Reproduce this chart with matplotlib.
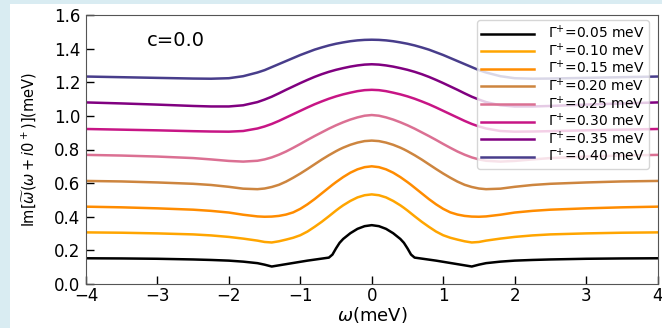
import numpy as np
import matplotlib
matplotlib.use("Agg")
import matplotlib.pyplot as plt
from matplotlib.patches import Rectangle

# omega grid (left half, curves are symmetric about omega = 0)
omega_half = [-4.0, -3.5, -3.0, -2.5, -2.25, -2.0, -1.8, -1.6, -1.5, -1.4, -1.3,
              -1.2, -1.1, -1.0, -0.9, -0.8, -0.7, -0.6, -0.55, -0.5, -0.45,
              -0.4, -0.3, -0.2, -0.1, 0.0]

gamma_labels = ["0.05", "0.10", "0.15", "0.20", "0.25", "0.30", "0.35", "0.40"]

im_g05 = [0.153, 0.152, 0.150, 0.146, 0.143, 0.139, 0.133, 0.124, 0.115, 0.104, 0.111,
          0.118, 0.125, 0.132, 0.139, 0.145, 0.151, 0.157, 0.175, 0.212, 0.245,
          0.268, 0.302, 0.328, 0.344, 0.350]
im_g10 = [0.307, 0.305, 0.301, 0.295, 0.289, 0.280, 0.270, 0.258, 0.250, 0.247, 0.254,
          0.264, 0.275, 0.290, 0.312, 0.340, 0.370, 0.403, 0.420, 0.437, 0.453,
          0.468, 0.494, 0.515, 0.528, 0.533]
im_g15 = [0.460, 0.456, 0.450, 0.442, 0.435, 0.425, 0.412, 0.402, 0.400, 0.401, 0.405,
          0.413, 0.426, 0.447, 0.474, 0.505, 0.539, 0.573, 0.590, 0.606, 0.621,
          0.636, 0.662, 0.682, 0.695, 0.700]
im_g20 = [0.613, 0.610, 0.604, 0.596, 0.589, 0.578, 0.567, 0.564, 0.568, 0.577, 0.590,
          0.609, 0.632, 0.657, 0.684, 0.712, 0.740, 0.766, 0.778, 0.790, 0.801,
          0.811, 0.828, 0.841, 0.850, 0.853]
im_g25 = [0.768, 0.764, 0.758, 0.749, 0.741, 0.732, 0.728, 0.733, 0.741, 0.753, 0.769,
          0.788, 0.810, 0.833, 0.857, 0.880, 0.902, 0.924, 0.934, 0.944, 0.953,
          0.962, 0.978, 0.991, 1.001, 1.005]
im_g30 = [0.922, 0.918, 0.914, 0.909, 0.907, 0.906, 0.910, 0.925, 0.937, 0.952, 0.970,
          0.990, 1.010, 1.030, 1.050, 1.069, 1.086, 1.102, 1.109, 1.116, 1.122,
          1.128, 1.138, 1.147, 1.153, 1.155]
im_g35 = [1.080, 1.074, 1.067, 1.059, 1.056, 1.056, 1.063, 1.082, 1.097, 1.114, 1.134,
          1.155, 1.175, 1.195, 1.214, 1.232, 1.248, 1.262, 1.268, 1.274, 1.279,
          1.284, 1.293, 1.300, 1.305, 1.307]
im_g40 = [1.234, 1.230, 1.226, 1.222, 1.221, 1.224, 1.236, 1.258, 1.272, 1.290, 1.308,
          1.326, 1.344, 1.362, 1.378, 1.394, 1.407, 1.419, 1.424, 1.429, 1.433,
          1.437, 1.444, 1.449, 1.452, 1.453]

colors = ["black", "orange", "darkorange", "peru", "palevioletred",
          "mediumvioletred", "purple", "darkslateblue"]


def mirror(half):
    half = np.asarray(half)
    return np.concatenate([half, half[-2::-1]])


omega = np.concatenate([np.asarray(omega_half), -np.asarray(omega_half)[-2::-1]])
series = [im_g05, im_g10, im_g15, im_g20, im_g25, im_g30, im_g35, im_g40]

fig = plt.figure(figsize=(6.62, 3.28), dpi=100, facecolor="#d9ecf2")
# white panel inside the light blue frame
fig.patches.append(Rectangle((10 / 662, 0), 1, 1 - 4 / 328, transform=fig.transFigure,
                             facecolor="white", edgecolor="none", zorder=-10))
ax = fig.add_axes([86 / 662, 44 / 328, 571.5 / 662, 269 / 328])
ax.set_zorder(5)

for vals, col, lab in zip(series, colors, gamma_labels):
    ax.plot(omega, mirror(vals), color=col, lw=1.8,
            label=r"$\Gamma^{+}$=" + lab + " meV")

ax.set_xlim(-4, 4)
ax.set_ylim(0, 1.6)
ax.set_xticks(np.arange(-4, 5, 1))
ax.set_yticks(np.arange(0, 1.61, 0.2))
ax.yaxis.set_major_formatter(matplotlib.ticker.FormatStrFormatter("%.1f"))
ax.tick_params(direction="in", length=6, width=1, labelsize=12)
ax.tick_params(axis="y", pad=4)
ax.tick_params(axis="x", pad=2)
for s in ax.spines.values():
    s.set_color("#555555")

ax.set_xlabel(r"$\omega$(meV)", fontsize=13, labelpad=0)
ax.set_ylabel(r"Im[$\widetilde{\omega}(\omega+i0^+)$](meV)", fontsize=10.5, labelpad=11)
ax.text(0.107, 0.907, "c=0.0", transform=ax.transAxes, fontsize=14, va="center")

ax.legend(loc="upper right", bbox_to_anchor=(0.985, 0.981), borderaxespad=0,
          fontsize=10, labelspacing=0.02, borderpad=0.3, handlelength=3.8,
          handletextpad=1.0)

fig.savefig("out.png", dpi=100, facecolor=fig.get_facecolor())
